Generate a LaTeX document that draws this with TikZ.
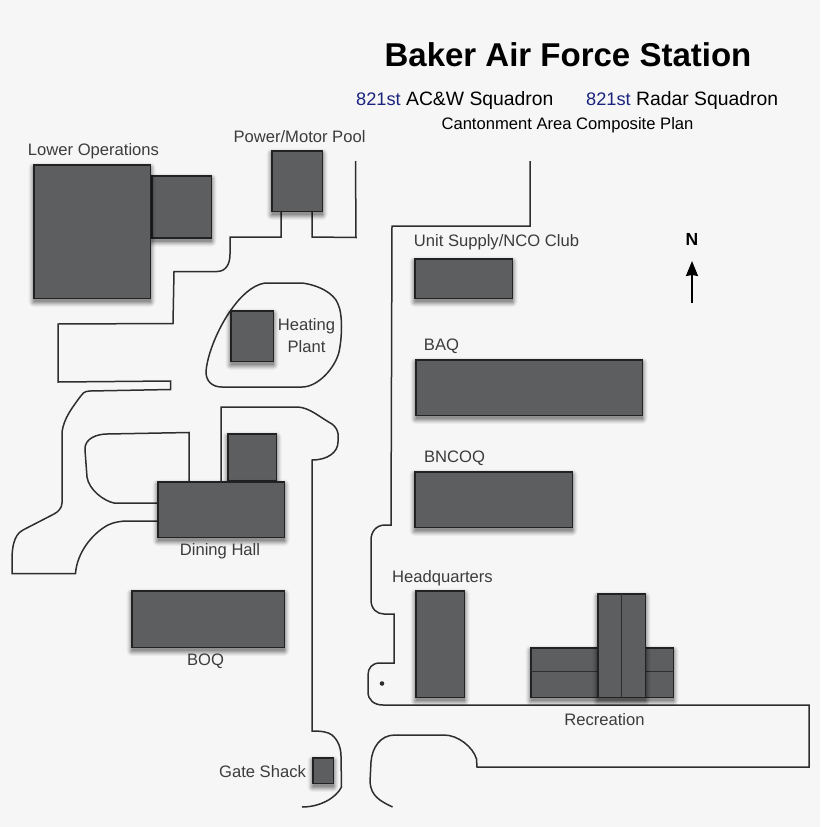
\documentclass[tikz,border=0pt]{standalone}
\usepackage{fontspec}
\setmainfont{Liberation Sans}
\usetikzlibrary{arrows.meta}
\definecolor{bgc}{HTML}{F6F6F6}
\definecolor{bfill}{HTML}{5D5E60}
\definecolor{bline}{HTML}{222222}
\definecolor{roadc}{HTML}{2E2E2E}
\definecolor{labelc}{HTML}{3C3C3C}
\definecolor{numc}{HTML}{1A237E}
\tikzset{
  road/.style={draw=roadc,line width=1.5pt,line join=miter},
  bldg/.style={fill=bfill,draw=bline,line width=1.8pt},
  inner/.style={draw=bline!80!bfill,line width=0.9pt},
  lbl/.style={text=labelc,font=\fontsize{16.6}{19}\selectfont,inner sep=0pt,align=center},
  head/.style={text=black,inner sep=0pt},
}
\newcommand{\bshadow}[4]{%
  \foreach \e/\o in {5/0.04,4/0.05,3/0.07,2/0.09,1/0.11,0/0.13}{
    \fill[black,opacity=\o,rounded corners=\e pt]
      ({#1-\e+0.5},{#2-\e+3.5}) rectangle ({#3+\e-0.5},{#4+\e+3});
  }}
\newcommand{\building}[4]{\bshadow{#1}{#2}{#3}{#4}\draw[bldg] ({#1+0.6},{#2+0.6}) rectangle ({#3-0.6},{#4-0.6});}
\begin{document}
\begin{tikzpicture}[x=1pt,y=-1pt]
\useasboundingbox (0,0) rectangle (820,827);
\fill[bgc] (0,0) rectangle (820,827);

% roads
\draw[road] (355.5,161) -- (356,237.5) -- (312,237) -- (312,212);
\draw[road] (281,212) -- (281,237) -- (230,237) -- (230,254)
  .. controls (230,264) and (226,271.5) .. (217,271.5) -- (174,271.5) -- (173,323.5) -- (58,324) -- (58,382)
  -- (170.5,381) -- (170.5,389.5) -- (90,391)
  .. controls (84,391) and (82,394) .. (80,397)
  .. controls (72,408) and (64,418) .. (62,432)
  -- (62,503) .. controls (62,508) and (58,512) .. (54,514)
  -- (23,530) .. controls (13,535) and (12,550) .. (12,560)
  -- (12,573.5) -- (75.5,573.5)
  .. controls (77,552) and (93,533) .. (108,525)
  .. controls (114,522) and (122,521) .. (127,521) -- (157,521);
\draw[road] (157,503) -- (114,503)
  .. controls (104,501) and (89,490) .. (87,477)
  -- (85,450) .. controls (84,438) and (98,434) .. (107,434)
  -- (189,432.5) -- (189,481);
\draw[road] (221,481) -- (221,407) -- (298,407)
  .. controls (310,408) and (318,416) .. (332,424)
  .. controls (340,430) and (338,438) .. (338,442)
  .. controls (338,452) and (328,460) .. (312,460)
  -- (312,731) .. controls (322,731) and (328,732) .. (332,735)
  .. controls (338,740) and (341,748) .. (341,756)
  -- (341.5,787) .. controls (336,798) and (320,807) .. (302,807);
\draw[road] (530,161) -- (530,226) -- (392,226) -- (391,525) -- (385,525)
  .. controls (376,525) and (371,532) .. (371,540)
  -- (371,600) .. controls (371,609) and (377,614) .. (384,614)
  -- (394,614) -- (394,663) -- (380,663)
  .. controls (372,663) and (368,668) .. (368,675)
  -- (368,692) .. controls (368,700) and (374,705) .. (383,705)
  -- (809,705) -- (809,767) -- (477,767) -- (476.5,759)
  .. controls (473,747) and (458,735) .. (444,735)
  -- (395,735) .. controls (380,735) and (372,748) .. (371,762)
  -- (370,782) .. controls (371,796) and (380,801) .. (392.5,807);
% heating plant loop
\draw[road] (265,283) -- (302,283)
  .. controls (318,285) and (334,293) .. (338,304)
  .. controls (343,315) and (342,338) .. (339,352)
  .. controls (335,368) and (318,387) .. (302,387)
  -- (222,387) .. controls (212,387) and (206,381) .. (206,372)
  .. controls (207,355) and (218,328) .. (231,310)
  .. controls (240,297) and (252,285) .. (265,283) -- cycle;
\fill[roadc] (382,683.5) circle (2.3pt);

% buildings
\building{151}{175}{212}{238.5}
\building{33}{164}{151}{299}
\building{271}{150}{323}{212}
\building{230}{310}{274}{362}
\building{227}{433}{277}{481}
\building{157}{481}{285}{538}
\building{131}{590}{285}{648}
\building{414}{258}{513}{299}
\building{415}{359}{643}{416}
\building{414}{471}{573}{528}
\building{415}{590}{465}{698}
\building{530}{647}{674}{698}
\draw[inner] (530,671) -- (674,671);
\building{597}{593}{646}{698}
\draw[inner] (621.5,593) -- (621.5,698);
\building{312}{757}{334}{784}

% labels
\node[lbl] (lowerops) at (93.5,151.5) {Lower Operations};
\node[lbl] (power) at (299.5,136.5) {Power/Motor Pool};
\node[lbl] (heating) at (306.5,335.5) {Heating\\[3pt]Plant};
\node[lbl] (dining) at (220,551) {Dining Hall};
\node[lbl] (boq) at (205.5,661.5) {BOQ};
\node[lbl] (gate) at (262.5,771.5) {Gate Shack};
\node[lbl] (hq) at (442.5,578) {Headquarters};
\node[lbl] (rec) at (604.5,719.5) {Recreation};
\node[lbl] (bncoq) at (454.5,458) {BNCOQ};
\node[lbl] (baq) at (441.5,346) {BAQ};
\node[lbl] (unit) at (496.5,242) {Unit Supply/NCO Club};

\node[head,font=\bfseries\fontsize{33}{38}\selectfont] (title) at (568,54.5) {Baker Air Force Station};
\node[head,font=\fontsize{19.35}{22}\selectfont,anchor=base west] (sq1) at (356,105.5) {\textcolor{numc}{\fontsize{18.2}{22}\selectfont 821st} AC\&W Squadron};
\node[head,font=\fontsize{19.35}{22}\selectfont,anchor=base west] (sq2) at (586,105.5) {\textcolor{numc}{\fontsize{18.2}{22}\selectfont 821st} Radar Squadron};
\node[head,font=\fontsize{16.6}{19}\selectfont] (plan) at (567.5,125.5) {Cantonment Area Composite Plan};

\node[head,font=\bfseries\fontsize{17.5}{20}\selectfont] (north) at (692,239) {N};
\coordinate (arrowtail) at (692,303);
\coordinate (arrowtip) at (692,261);
\draw[black,line width=1.5pt,-{Stealth[length=15pt,width=12pt,inset=1pt]}] (arrowtail) -- (arrowtip);
\end{tikzpicture}
\end{document}
